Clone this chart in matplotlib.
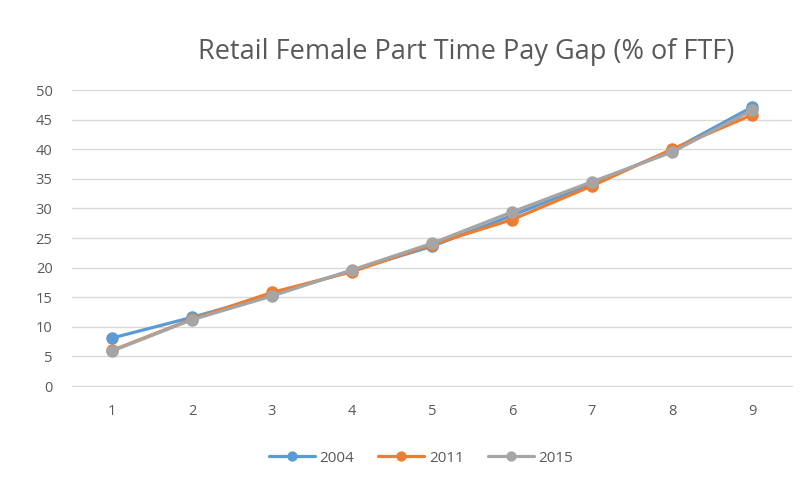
import matplotlib
matplotlib.use("Agg")
import matplotlib.pyplot as plt

x = [1, 2, 3, 4, 5, 6, 7, 8, 9]
s2004 = [8.1, 11.6, 15.4, 19.5, 23.6, 28.8, 34.2, 39.8, 47.1]
s2011 = [6.0, 11.3, 15.8, 19.3, 23.9, 28.1, 33.8, 40.0, 45.8]
s2015 = [5.9, 11.2, 15.2, 19.6, 24.1, 29.4, 34.5, 39.5, 46.6]
labels = ["2004", "2011", "2015"]
colors = ["#5B9BD5", "#ED7D31", "#A5A5A5"]
title = "Retail Female Part Time Pay Gap (% of FTF)"

plt.rcParams['font.family'] = ['Open Sans', 'DejaVu Sans']

fig = plt.figure(figsize=(8.06, 4.87), dpi=100)
W, H = 806, 487
ax = fig.add_axes([72 / W, 1 - 386 / H, (792 - 72) / W, (386 - 90) / H])

for ys, lab, c in zip([s2004, s2011, s2015], labels, colors):
    ax.plot(x, ys, color=c, lw=2.3, marker='o', markersize=8, label=lab,
            solid_capstyle='round')

ax.set_xlim(0.5, 9.5)
ax.set_ylim(0, 50)
ax.set_yticks(range(0, 51, 5))
ax.set_xticks(x)
ax.grid(axis='y', color='#D9D9D9', lw=1)
ax.set_axisbelow(True)
for sp in ['top', 'right', 'left']:
    ax.spines[sp].set_visible(False)
ax.spines['bottom'].set_color('#D9D9D9')
ax.tick_params(axis='both', length=0, labelsize=10.5, labelcolor='#595959')
ax.tick_params(axis='x', pad=13)
ax.tick_params(axis='y', pad=14)

fig.text(466 / W, 1 - 52 / H, title, ha='center', va='center', fontsize=19.5,
         color='#595959')

ax.legend(loc='center', bbox_to_anchor=(421 / W, 1 - 458 / H),
          bbox_transform=fig.transFigure, ncol=3, frameon=False, fontsize=11,
          labelcolor='#595959', handlelength=3, columnspacing=1.6,
          handletextpad=0.3, markerscale=0.8)

fig.savefig("out.png", dpi=100)
